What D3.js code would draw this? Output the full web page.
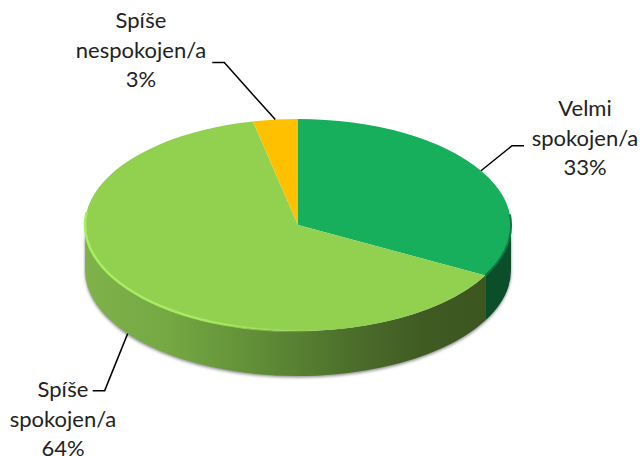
<!DOCTYPE html>
<html>
<head>
<meta charset="utf-8">
<script src="https://cdn.jsdelivr.net/npm/d3@7"></script>
<style>
  html, body { margin: 0; padding: 0; background: #fff; }
  svg { display: block; }
  text { font-family: Lato, "Open Sans", sans-serif; font-size: 22px; fill: #222; }
</style>
</head>
<body>
<div id="app"></div>
<script>
const categories = ['Velmi spokojen/a', 'Spíše spokojen/a', 'Spíše nespokojen/a'];
const labelLines = [['Velmi', 'spokojen/a', '33%'], ['Spíše', 'spokojen/a', '64%'], ['Spíše', 'nespokojen/a', '3%']];
// estimated from the slice edges, the printed labels are rounded
const values = [32.9, 63.7, 3.4];
const topColors = ['#17AE5C', '#92D050', '#FFC000'];

const width = 640;
const height = 456;
const cx = 298;
const cy = 225;
const rx = 213;
const ry = 106;
const depth = 45;
const tau = Math.PI * 2;

const svg = d3.select('#app').append('svg')
  .attr('width', width)
  .attr('height', height);

const defs = svg.append('defs');

// side of the big slice goes dark towards the right
const sideGrad = defs.append('linearGradient')
  .attr('id', 'sideGreen')
  .attr('gradientUnits', 'userSpaceOnUse')
  .attr('x1', cx - rx).attr('x2', cx + rx).attr('y1', 0).attr('y2', 0);
[[0, '#7FB24A'], [0.2, '#74A843'], [0.42, '#5F8B36'], [0.62, '#4C6F2B'], [0.8, '#3F5A22'], [1, '#3C5420']]
  .forEach(s => sideGrad.append('stop').attr('offset', s[0]).attr('stop-color', s[1]));

// bright rim fades out towards the middle of the front
const rimGrad = defs.append('linearGradient')
  .attr('id', 'rimGreen')
  .attr('gradientUnits', 'userSpaceOnUse')
  .attr('x1', cx - rx).attr('x2', cx + 30).attr('y1', 0).attr('y2', 0);
[[0, 1], [0.5, 0.9], [1, 0]]
  .forEach(s => rimGrad.append('stop').attr('offset', s[0]).attr('stop-color', '#A9EE62').attr('stop-opacity', s[1]));

defs.append('filter').attr('id', 'blurShadow')
  .attr('x', '-10%').attr('y', '-10%').attr('width', '120%').attr('height', '120%')
  .append('feGaussianBlur').attr('stdDeviation', 1.6);
defs.append('filter').attr('id', 'blurRim')
  .attr('x', '-10%').attr('y', '-10%').attr('width', '120%').attr('height', '120%')
  .append('feGaussianBlur').attr('stdDeviation', 0.7);

const pie = d3.pie().sort(null).value(d => d);
const arcs = pie(values);

const arc = d3.arc().innerRadius(0).outerRadius(rx);

// angle is clockwise from 12 o'clock, as in d3.pie
const px = (a) => cx + rx * Math.sin(a);
const py = (a, dz) => cy - ry * Math.cos(a) + (dz || 0);

function wall(a0, a1) {
  const s = Math.max(a0, tau / 4);
  const e = Math.min(a1, tau * 3 / 4);
  return `M${px(s)},${py(s)}A${rx},${ry} 0 0 1 ${px(e)},${py(e)}`
    + `L${px(e)},${py(e, depth)}A${rx},${ry} 0 0 0 ${px(s)},${py(s, depth)}Z`;
}

const sideFills = ['#0A4F2A', 'url(#sideGreen)', 'none'];

// soft grey shadow round the lower edge
svg.append('path')
  .attr('d', wall(0, tau))
  .attr('fill', '#8d8d8d')
  .attr('transform', 'translate(0,1.5)')
  .attr('filter', 'url(#blurShadow)');

svg.append('g').selectAll('path')
  .data(arcs.filter(d => d.endAngle > tau / 4 && d.startAngle < tau * 3 / 4))
  .enter().append('path')
    .attr('d', d => wall(d.startAngle, d.endAngle))
    .attr('fill', d => sideFills[d.index]);

const topFace = svg.append('g')
  .attr('transform', `translate(${cx},${cy}) scale(1,${ry / rx})`);

topFace.selectAll('path')
  .data(arcs)
  .enter().append('path')
    .attr('d', arc)
    .attr('fill', (d, i) => topColors[i]);

// bevel on the front rim
const rimStart = arcs[1].startAngle;
const rimEnd = tau * 3 / 4 + 0.12;
const rimPath = (a0, a1) => `M${px(a0)},${py(a0)}A${rx},${ry} 0 0 1 ${px(a1)},${py(a1)}`;
svg.append('path')
  .attr('d', rimPath(tau * 0.49, rimEnd))
  .attr('fill', 'none')
  .attr('stroke', 'url(#rimGreen)')
  .attr('stroke-width', 2.5)
  .attr('filter', 'url(#blurRim)');
svg.append('path')
  .attr('d', rimPath(tau / 4 - 0.1, rimStart))
  .attr('fill', 'none')
  .attr('stroke', '#0E7A42')
  .attr('stroke-width', 2)
  .attr('filter', 'url(#blurRim)');

// leader lines start at the middle of each slice, on the visible edge
const leaderOffsets = [
  [[31, -25], [43, -25]],
  [[-23, 57], [-35, 57]],
  [[-51, -57], [-63, -57]]
];
const leader = d3.line();
svg.append('g').selectAll('path')
  .data(arcs)
  .enter().append('path')
    .attr('d', (d) => {
      const mid = (d.startAngle + d.endAngle) / 2;
      const dz = (Math.cos(mid) < 0) ? depth : 0;
      const x0 = px(mid);
      const y0 = py(mid, dz);
      return leader([[x0, y0]].concat(leaderOffsets[d.index].map(o => [x0 + o[0], y0 + o[1]])));
    })
    .attr('fill', 'none')
    .attr('stroke', '#000')
    .attr('stroke-width', 1.5);

const labelPos = [[585, 116], [63, 397], [141, 28]];
const lineStep = 29.5;
const labels = svg.append('g').selectAll('text')
  .data(labelLines)
  .enter().append('text')
    .attr('text-anchor', 'middle')
    .attr('aria-label', (d, i) => categories[i]);

labels.selectAll('tspan')
  .data((d, i) => d.map((t, j) => ({ t, j, i })))
  .enter().append('tspan')
    .attr('x', d => labelPos[d.i][0])
    .attr('y', d => labelPos[d.i][1] + d.j * lineStep)
    .text(d => d.t);
</script>
</body>
</html>
